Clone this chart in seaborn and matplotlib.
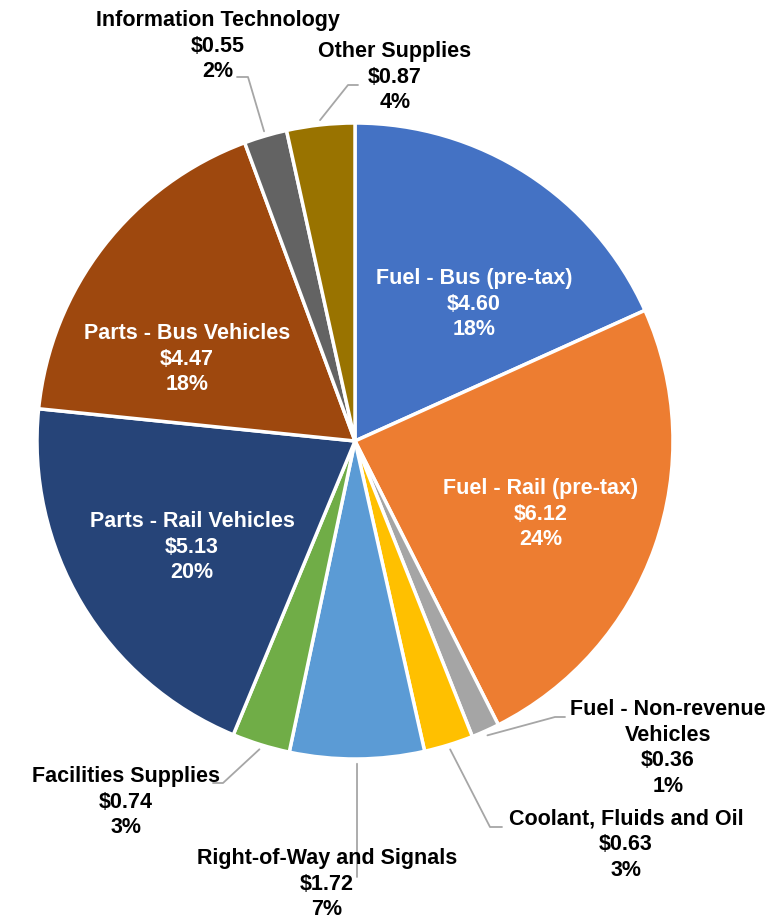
import matplotlib
matplotlib.use("Agg")
import matplotlib.pyplot as plt
import seaborn as sns
import numpy as np

sns.set_theme(style="white")
plt.rcParams["font.family"] = ["Liberation Sans", "DejaVu Sans"]
plt.rcParams["font.weight"] = "bold"

# data
categories = ["Fuel - Bus (pre-tax)", "Fuel - Rail (pre-tax)", "Fuel - Non-revenue\nVehicles",
              "Coolant, Fluids and Oil", "Right-of-Way and Signals", "Facilities Supplies",
              "Parts - Rail Vehicles", "Parts - Bus Vehicles", "Information Technology",
              "Other Supplies"]
amounts = [4.60, 6.12, 0.36, 0.63, 1.72, 0.74, 5.13, 4.47, 0.55, 0.87]
pct_labels = ["18%", "24%", "1%", "3%", "7%", "3%", "20%", "18%", "2%", "4%"]
colors = ["#4472C4", "#ED7D31", "#A5A5A5", "#FFC000", "#5B9BD5",
          "#70AD47", "#264478", "#9E480E", "#636363", "#997300"]

# layout, in reference pixels: centre of pie and radius
CX, CY, R = 355, 441, 318
W, H = 775, 922


def px(x, y):
    return (x - CX) / R, (CY - y) / R


# label centre positions (px); inside labels are white
label_pos = [(474, 304), (541, 514), (668, 748), (626, 845), (327, 884),
             (126, 802), (192, 547), (187, 359), (218, 46), (395, 77)]
inside = [True, True, False, False, False, False, True, True, False, False]
# leader elbow and end (px) for outside labels
leaders = {2: [(555, 717), (565, 717)],
           3: [(490, 827), (502, 827)],
           4: [(357, 877), (357, 877)],
           5: [(223, 783), (213, 783)],
           8: [(248, 77), (237, 77)],
           9: [(348, 85), (358, 85)]}

fig = plt.figure(figsize=(W / 100, H / 100), dpi=100)
ax = fig.add_axes([0, 0, 1, 1])

palette = sns.color_palette(colors)
wedges, _ = ax.pie(amounts, colors=palette, startangle=90, counterclock=False,
                   radius=1, wedgeprops=dict(edgecolor="white", linewidth=2.5))

ax.set_xlim(-CX / R, (W - CX) / R)
ax.set_ylim((CY - H) / R, CY / R)
ax.set_aspect("equal")
ax.axis("off")

for i, w in enumerate(wedges):
    txt = f"{categories[i]}\n${amounts[i]:.2f}\n{pct_labels[i]}"
    x, y = px(*label_pos[i])
    ax.text(x, y, txt, ha="center", va="center", fontsize=15.5, fontweight="bold",
            color="white" if inside[i] else "black", linespacing=1.3, zorder=5)
    if i in leaders:
        mid = np.deg2rad((w.theta1 + w.theta2) / 2)
        sx, sy = 1.015 * np.cos(mid), 1.015 * np.sin(mid)
        pts = [(sx, sy)] + [px(*p) for p in leaders[i]]
        ax.plot([p[0] for p in pts], [p[1] for p in pts], color="#A6A6A6", lw=1.3, zorder=2)

fig.savefig("out.png", dpi=100)
